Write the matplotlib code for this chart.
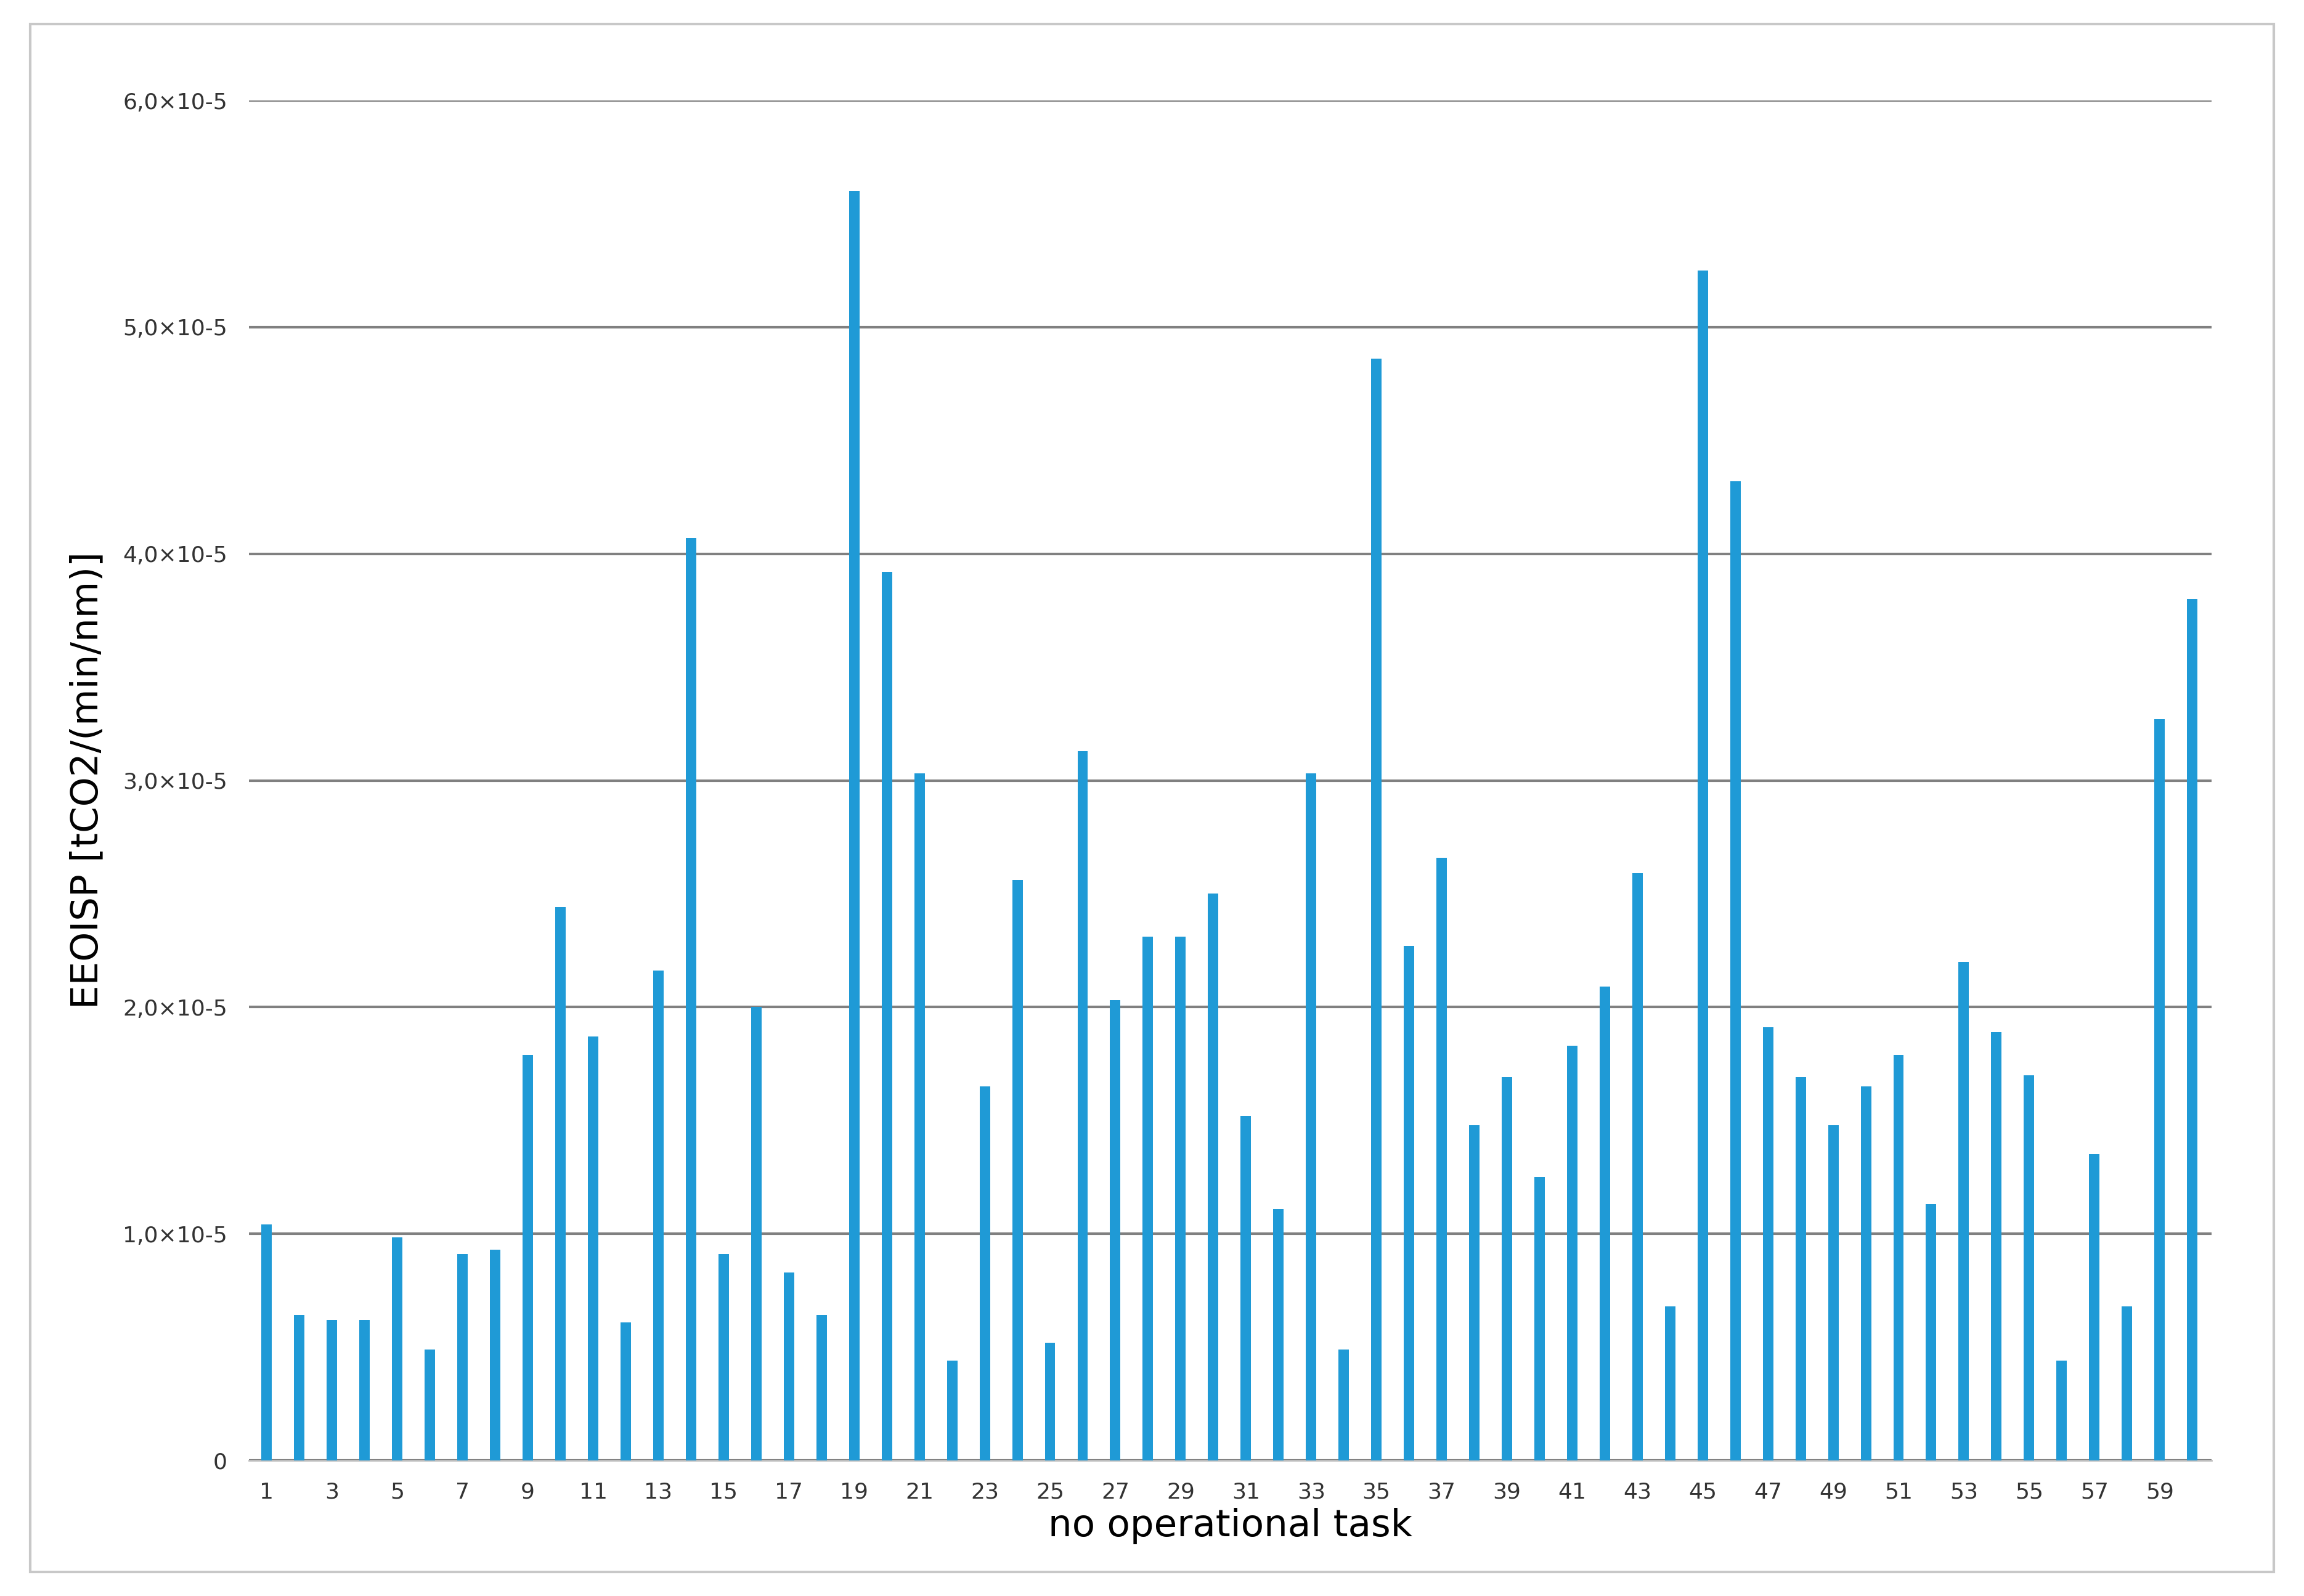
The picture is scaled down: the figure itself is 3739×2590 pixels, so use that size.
import matplotlib
matplotlib.use("Agg")
import matplotlib.pyplot as plt
from matplotlib.patches import Rectangle

tasks = list(range(1, 61))
values = [1.04,0.64,0.62,0.62,0.985,0.49,0.91,0.93,1.79,2.44,1.87,0.61,2.16,4.07,0.91,2.0,0.83,0.64,5.6,3.92,
          3.03,0.44,1.65,2.56,0.52,3.13,2.03,2.31,2.31,2.5,1.52,1.11,3.03,0.49,4.86,2.27,2.66,1.48,1.69,1.25,
          1.83,2.09,2.59,0.68,5.25,4.32,1.91,1.69,1.48,1.65,1.79,1.13,2.2,1.89,1.7,0.44,1.35,0.68,3.27,3.8]
values = [v*1e-5 for v in values]
yticks = [0, 1e-5, 2e-5, 3e-5, 4e-5, 5e-5, 6e-5]
ytick_labels = ["0", "1,0×10-5", "2,0×10-5", "3,0×10-5", "4,0×10-5", "5,0×10-5", "6,0×10-5"]

fig = plt.figure(figsize=(37.39, 25.90), dpi=100)
fig.patches.append(Rectangle((0.013, 0.015), 0.974, 0.97, transform=fig.transFigure,
                             fill=False, edgecolor="#c8c8c8", linewidth=3))
ax = fig.add_axes([0.108, 0.085, 0.852, 0.852])
ax.bar(tasks, values, width=0.32, color="#1f9ad6", zorder=3)
ax.set_ylim(0, 6e-5)
ax.set_xlim(0.45, 60.6)
ax.set_yticks(yticks)
ax.set_yticklabels(ytick_labels, fontsize=26, color="#333333")
ax.set_xticks(list(range(1, 60, 2)))
ax.set_xticklabels([str(t) for t in range(1, 60, 2)], fontsize=26, color="#333333")
ax.yaxis.grid(True, color="#808080", linewidth=3, zorder=0)
for s in ["top", "right", "left"]:
    ax.spines[s].set_visible(False)
ax.spines["bottom"].set_color("#c0c0c0")
ax.spines["bottom"].set_linewidth(2)
ax.tick_params(length=0, pad=25)
ax.set_xlabel("no operational task", fontsize=44, labelpad=6)
ax.set_ylabel("EEOISP [tCO2/(min/nm)]", fontsize=44, labelpad=20)
fig.savefig("out.png", dpi=100)
